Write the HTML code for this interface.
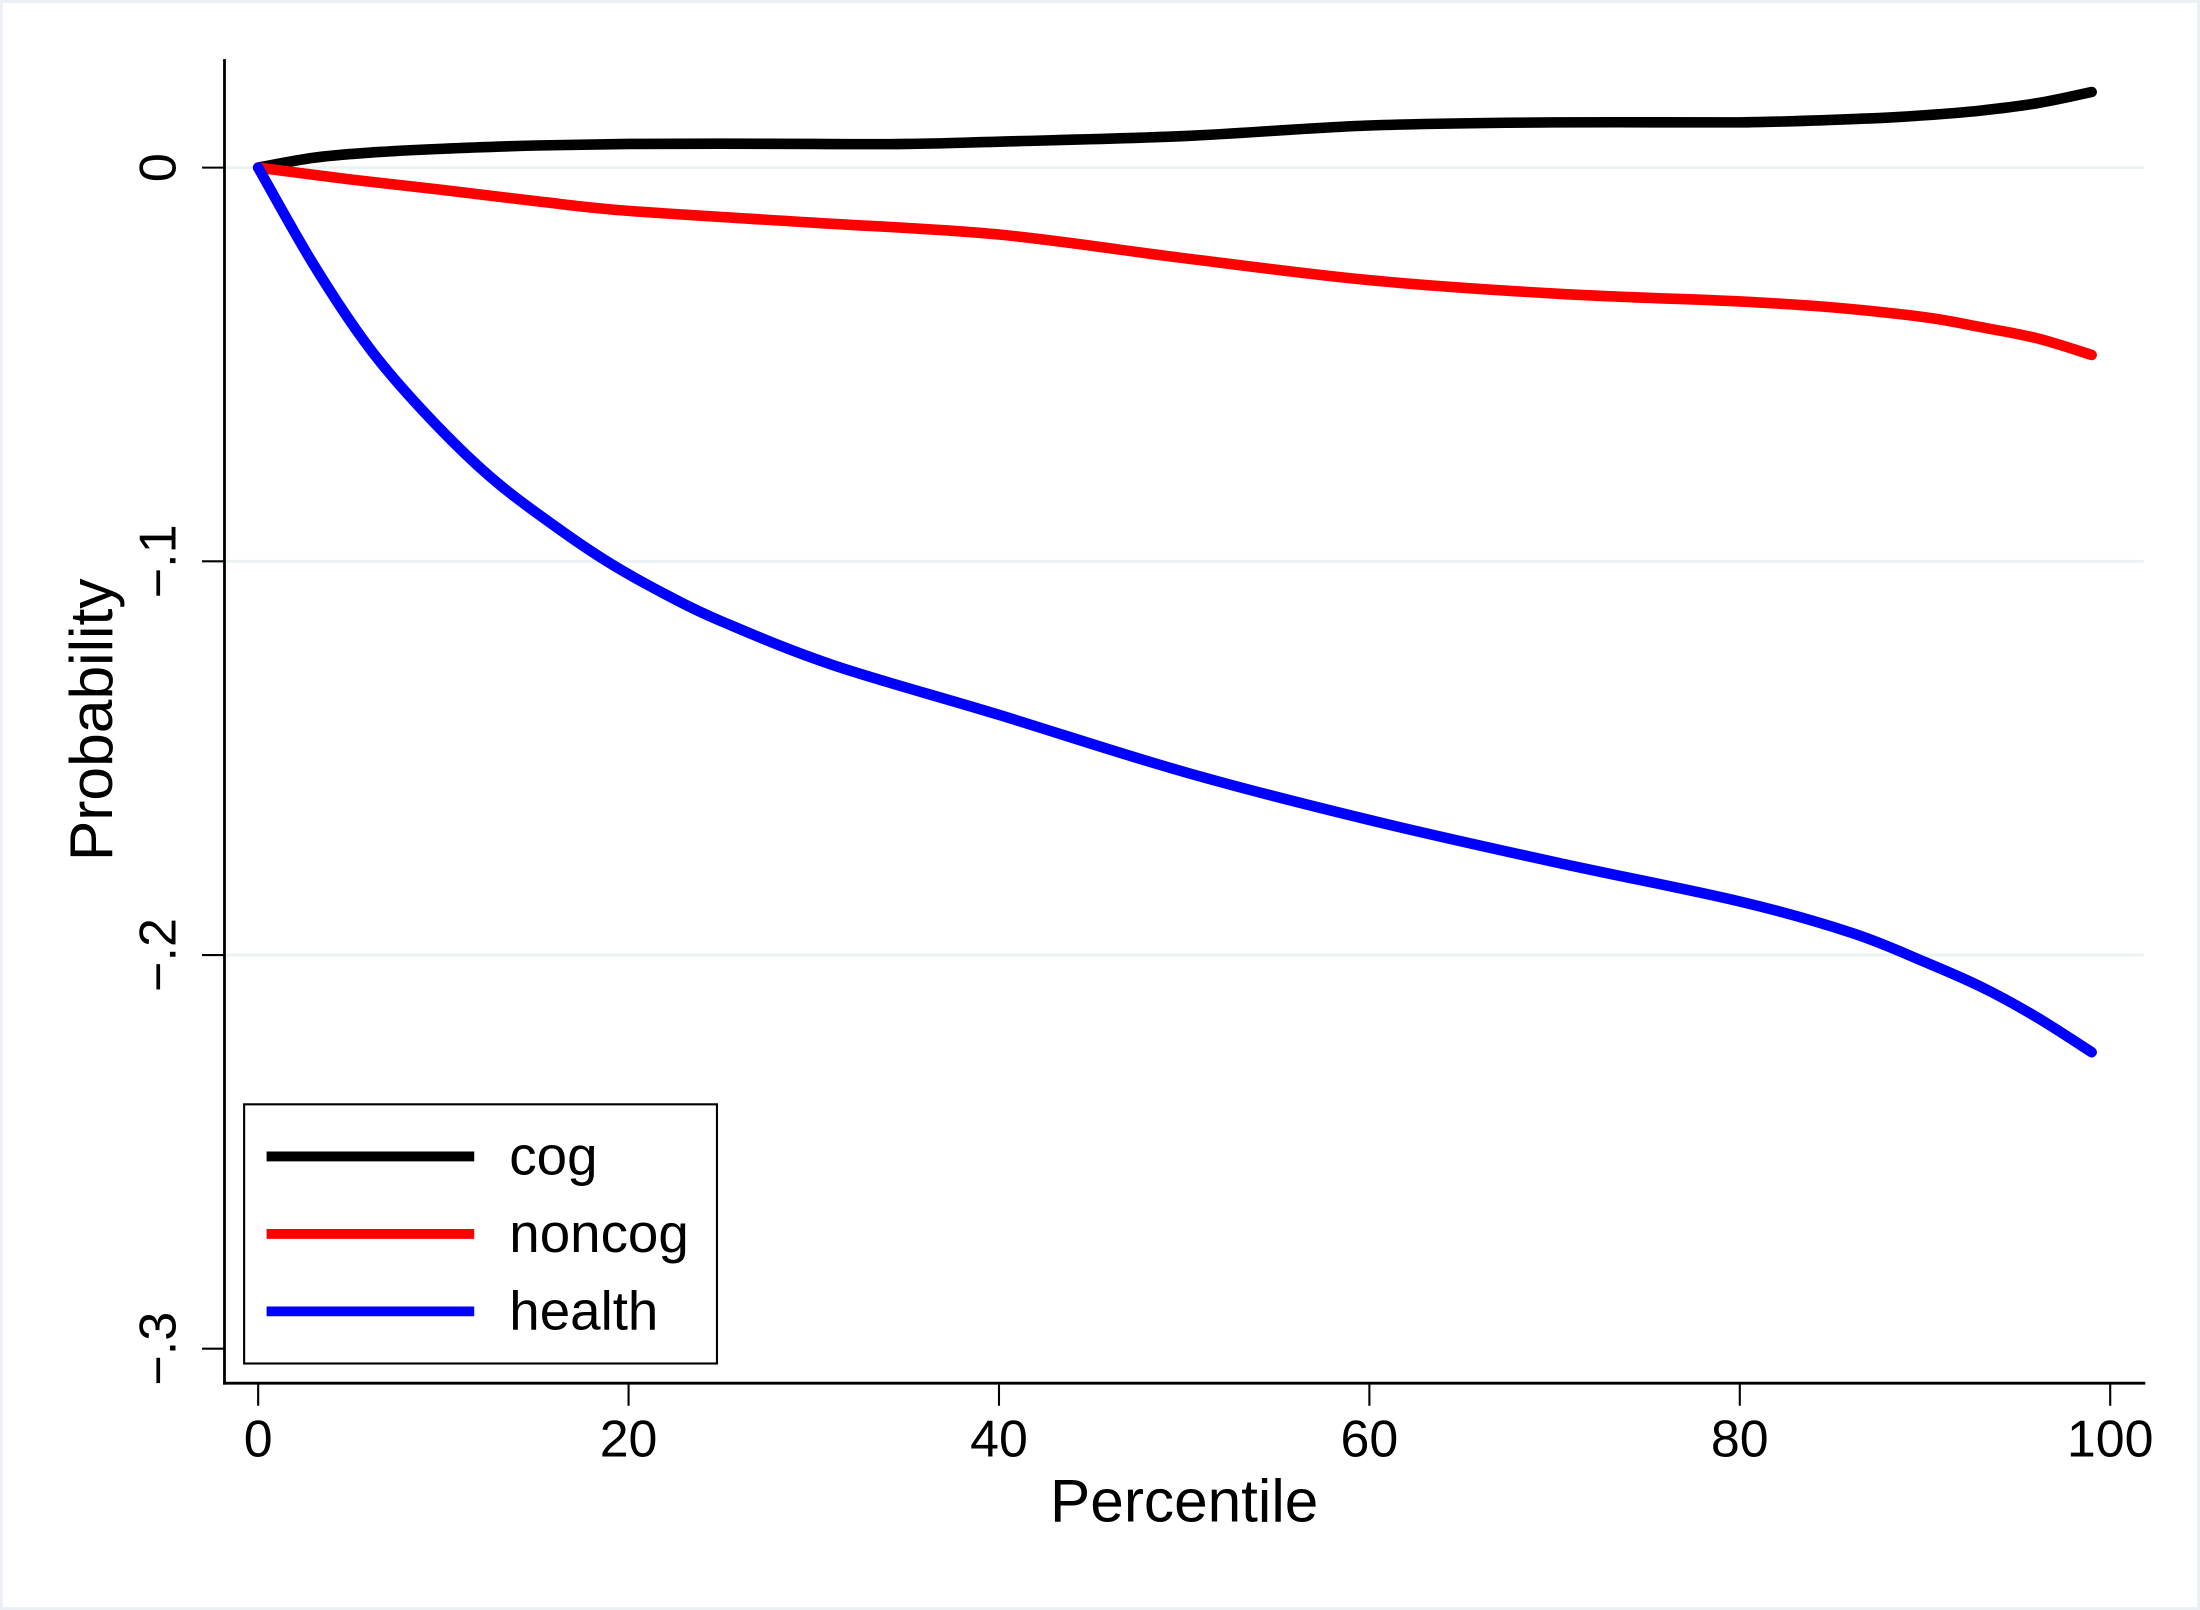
<!DOCTYPE html>
<html><head><meta charset="utf-8"><style>
html,body{margin:0;padding:0;background:#fff;}
svg{display:block;font-family:"Liberation Sans",Arial,sans-serif;}
</style></head><body>
<svg id="chart" width="2200" height="1610" viewBox="0 0 1568 1143" preserveAspectRatio="none" xmlns="http://www.w3.org/2000/svg">
<rect x="1" y="1" width="1566" height="1141" fill="#fff" stroke="#eaf0f5" stroke-width="2"/>
<g id="grid"></g>
<g id="axes"></g>
<g id="series"></g>
<text x="844" y="1080" font-size="43" text-anchor="middle">Percentile</text>
<text transform="translate(80,511) rotate(-90)" font-size="43" text-anchor="middle">Probability</text>
<g>
<rect x="174" y="784" width="337" height="184" fill="#fff" stroke="#000" stroke-width="1.5"/>
<line x1="190" y1="821" x2="338" y2="821" stroke="#000" stroke-width="7"/>
<text x="363" y="834" font-size="39">cog</text>
<line x1="190" y1="876" x2="338" y2="876" stroke="#f00" stroke-width="7"/>
<text x="363" y="889" font-size="39">noncog</text>
<line x1="190" y1="931" x2="338" y2="931" stroke="#00f" stroke-width="7"/>
<text x="363" y="944" font-size="39">health</text>
</g>
</svg>
<script>
const xTicks = [0, 20, 40, 60, 80, 100];
const yTicks = [0, -0.1, -0.2, -0.3];
const yTickLabels = ["0", "\u2212.1", "\u2212.2", "\u2212.3"];
const cogX = [0, 3, 6, 10, 15, 20, 25, 30, 35, 40, 50, 60, 70, 80, 87, 90, 93, 96, 99];
const cogY = [0, 0.0025, 0.0038, 0.0048, 0.0056, 0.006, 0.0061, 0.006, 0.006, 0.0066, 0.008, 0.0107, 0.0115, 0.0115, 0.0125, 0.0133, 0.0145, 0.0163, 0.0192];
const noncogX = [0, 5, 10, 15, 20, 30, 40, 50, 60, 70, 80, 85, 90, 93, 96, 99];
const noncogY = [0, -0.003, -0.0057, -0.0085, -0.011, -0.014, -0.017, -0.023, -0.0286, -0.032, -0.034, -0.0355, -0.038, -0.0405, -0.0433, -0.0476];
const healthX = [0, 3, 6, 9, 12.5, 16, 19, 22, 25, 31, 40, 50, 60, 70, 80, 86, 90, 93, 96, 99];
const healthY = [0, -0.0247, -0.0458, -0.0623, -0.0784, -0.091, -0.1005, -0.1084, -0.1152, -0.1263, -0.139, -0.1535, -0.1657, -0.1764, -0.1864, -0.1943, -0.2018, -0.208, -0.2157, -0.2247];

const NS = "http://www.w3.org/2000/svg";
const xs = v => 184 + v * 13.2;
const ys = v => 119 - v * 2795;
function mk(tag, attrs, parent) {
  const e = document.createElementNS(NS, tag);
  for (const k in attrs) e.setAttribute(k, attrs[k]);
  parent.appendChild(e);
  return e;
}
const grid = document.getElementById('grid');
const axes = document.getElementById('axes');
const series = document.getElementById('series');
yTicks.forEach((t, i) => {
  if (t > -0.3) {
    const g = mk('line', {x1: 161, x2: 1528, y1: ys(t), y2: ys(t), stroke: '#eaf2f3', 'stroke-width': 2}, grid);
    
    
  }
  const tk = mk('line', {x1: 144, x2: 160, y1: ys(t), y2: ys(t), stroke: '#000', 'stroke-width': 1.5}, axes);
  
  
  const lb = mk('text', {transform: `translate(125,${ys(t)}) rotate(-90)`, 'font-size': 37, 'text-anchor': 'middle'}, axes);
  lb.textContent = yTickLabels[i];
  
  
});
xTicks.forEach(t => {
  const tk = mk('line', {x1: xs(t), x2: xs(t), y1: 982, y2: 998, stroke: '#000', 'stroke-width': 1.5}, axes);
  
  
  const lb = mk('text', {x: xs(t), y: 1034, 'font-size': 37, 'text-anchor': 'middle'}, axes);
  lb.textContent = String(t);
  
  
});
const ya = mk('line', {x1: 160, x2: 160, y1: 42, y2: 983, stroke: '#000', 'stroke-width': 2}, axes);


const xa = mk('line', {x1: 159, x2: 1529, y1: 982, y2: 982, stroke: '#000', 'stroke-width': 2}, axes);


function line(X, Y, color, name) {
  const P = X.map((x, i) => [xs(x), ys(Y[i])]);
  let d = 'M' + P[0][0].toFixed(1) + ',' + P[0][1].toFixed(1);
  for (let i = 0; i < P.length - 1; i++) {
    const p0 = P[Math.max(0, i - 1)], p1 = P[i], p2 = P[i + 1], p3 = P[Math.min(P.length - 1, i + 2)];
    const c1 = [p1[0] + (p2[0] - p0[0]) / 6, p1[1] + (p2[1] - p0[1]) / 6];
    const c2 = [p2[0] - (p3[0] - p1[0]) / 6, p2[1] - (p3[1] - p1[1]) / 6];
    d += ` C${c1[0].toFixed(1)},${c1[1].toFixed(1)} ${c2[0].toFixed(1)},${c2[1].toFixed(1)} ${p2[0].toFixed(1)},${p2[1].toFixed(1)}`;
  }
  const p = mk('path', {d: d, fill: 'none', stroke: color, 'stroke-width': 7.5, 'stroke-linejoin': 'round', 'stroke-linecap': 'round'}, series);
  
  
}
line(cogX, cogY, '#000', 'line-cog');
line(noncogX, noncogY, '#f00', 'line-noncog');
line(healthX, healthY, '#00f', 'line-health');
</script>
</body></html>
